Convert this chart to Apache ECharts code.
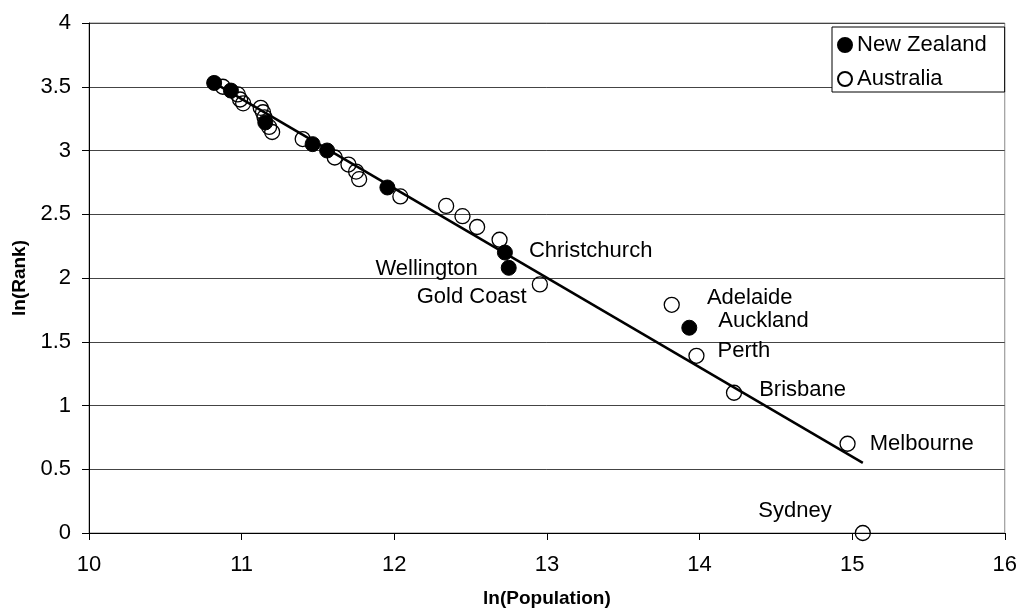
<!DOCTYPE html>
<html>
<head>
<meta charset="utf-8">
<script src="https://cdn.jsdelivr.net/npm/echarts@6/dist/echarts.min.js"></script>
<style>
  html, body { margin: 0; padding: 0; background: #fff; }
  #chart { width: 1020px; height: 615px; }
</style>
</head>
<body>
<div id="chart"></div>
<script>
// New Zealand cities: ln(population), ln(rank)
const nzX = [10.82, 10.93, 11.155, 11.465, 11.56, 11.955, 12.725, 12.75, 13.933];
const nzY = [3.53, 3.47, 3.22, 3.05, 3.0, 2.71, 2.2, 2.08, 1.61];
const nzNames = ['', '', '', '', '', '', 'Christchurch', 'Wellington', 'Auckland'];

// Australian cities
const auX = [10.877, 10.975, 10.99, 11.01, 11.125, 11.14, 11.15, 11.18, 11.2, 11.4,
  11.61, 11.7, 11.75, 11.77, 12.04, 12.34, 12.447, 12.543, 12.69,
  12.954, 13.818, 13.98, 14.226, 14.97, 15.07];
const auY = [3.5, 3.44, 3.4, 3.37, 3.335, 3.3, 3.26, 3.185, 3.145, 3.09,
  2.945, 2.89, 2.835, 2.775, 2.64, 2.565, 2.485, 2.4, 2.3,
  1.95, 1.79, 1.39, 1.1, 0.7, 0.0];
const auNames = ['', '', '', '', '', '', '', '', '', '',
  '', '', '', '', '', '', '', '', '',
  'Gold Coast', 'Adelaide', 'Perth', 'Brisbane', 'Melbourne', 'Sydney'];

// fitted line end points
const fitX = [10.82, 15.07];
const fitY = [3.53, 0.55];

const FONT = 'Liberation Sans, Arial, sans-serif';

// where each city name sits next to its point
const labelPos = {
  'Christchurch': { position: 'right', distance: 16, offset: [0, -2] },
  'Wellington': { position: 'left', distance: 23, offset: [0, 1] },
  'Auckland': { position: 'right', distance: 21, offset: [0, -7] },
  'Gold Coast': { position: 'left', distance: 5, offset: [0, 13] },
  'Adelaide': { position: 'right', distance: 27, offset: [0, -7] },
  'Perth': { position: 'right', distance: 13, offset: [0, -5] },
  'Brisbane': { position: 'right', distance: 17, offset: [0, -3] },
  'Melbourne': { position: 'right', distance: 14, offset: [0, 0] },
  'Sydney': { position: 'left', distance: 23, offset: [0, -22] }
};

function points(xs, ys, names) {
  return xs.map((x, i) => {
    const name = names[i];
    const item = { value: [x, ys[i]], name: name };
    if (name) {
      item.label = Object.assign({
        show: true, formatter: '{b}', color: '#000', fontSize: 22, fontFamily: FONT
      }, labelPos[name]);
    }
    return item;
  });
}

const chart = echarts.init(document.getElementById('chart'), null, { renderer: 'canvas' });
const option = {
  backgroundColor: '#ffffff',
  animation: false,
  textStyle: { fontFamily: FONT },
  grid: { left: 89, right: 15, top: 23, bottom: 82, show: true, borderColor: '#888', borderWidth: 1 },
  legend: {
    orient: 'vertical', left: 832, top: 27,
    padding: [7, 18, 2, 5], itemGap: 12, itemWidth: 14, itemHeight: 14,
    backgroundColor: '#fff', borderColor: '#000', borderWidth: 1,
    textStyle: { fontSize: 22, color: '#000', fontFamily: FONT },
    data: ['New Zealand', 'Australia']
  },
  xAxis: {
    type: 'value', min: 10, max: 16, interval: 1,
    name: 'ln(Population)', nameLocation: 'middle', nameGap: 56,
    nameTextStyle: { fontSize: 19, fontWeight: 'bold', color: '#000', fontFamily: FONT },
    axisLine: { show: true, onZero: false, lineStyle: { color: '#000', width: 1 } },
    axisTick: { show: true, length: 7, lineStyle: { color: '#000' } },
    axisLabel: { fontSize: 22, color: '#000', margin: 21, fontFamily: FONT },
    splitLine: { show: false }
  },
  yAxis: {
    type: 'value', min: 0, max: 4, interval: 0.5,
    name: 'ln(Rank)', nameLocation: 'middle', nameGap: 56,
    nameTextStyle: { fontSize: 19, fontWeight: 'bold', color: '#000', fontFamily: FONT },
    axisLine: { show: true, onZero: false, lineStyle: { color: '#000', width: 1 } },
    axisTick: { show: true, length: 7, lineStyle: { color: '#000' } },
    axisLabel: { fontSize: 22, color: '#000', margin: 18, fontFamily: FONT },
    splitLine: { show: true, lineStyle: { color: '#444', width: 1 } }
  },
  series: [
    {
      name: 'Fit', type: 'line', z: 3,
      data: fitX.map((x, i) => [x, fitY[i]]),
      showSymbol: false, symbol: 'none',
      lineStyle: { color: '#000', width: 2.5 }
    },
    {
      name: 'Australia', type: 'scatter', z: 2,
      symbol: 'circle', symbolSize: 15,
      itemStyle: { color: 'rgba(255,255,255,0)', borderColor: '#000', borderWidth: 1.3, opacity: 1 },
      data: points(auX, auY, auNames)
    },
    {
      name: 'New Zealand', type: 'scatter', z: 4,
      symbol: 'circle', symbolSize: 15,
      itemStyle: { color: '#000', borderColor: '#000', borderWidth: 1, opacity: 1 },
      data: points(nzX, nzY, nzNames)
    }
  ]
};
chart.setOption(option);
</script>
</body>
</html>
